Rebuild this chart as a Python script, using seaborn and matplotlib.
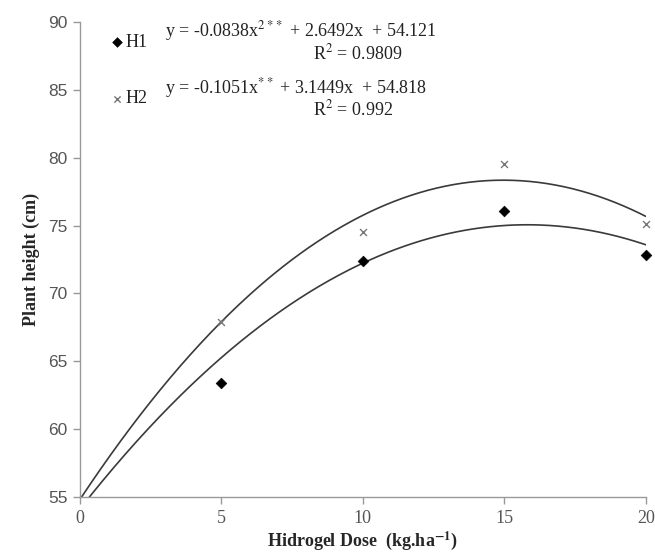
import numpy as np
import pandas as pd
import matplotlib
matplotlib.use("Agg")
import matplotlib.pyplot as plt
import seaborn as sns

# ---- data ----
doses = [5, 10, 15, 20]
h1_height = [63.4, 72.4, 76.1, 72.8]
h2_height = [67.9, 74.5, 79.5, 75.1]
# fitted quadratic coefficients printed on the chart (a, b, c) for y = a x^2 + b x + c
h1_coef = [-0.0838, 2.6492, 54.121]
h2_coef = [-0.1051, 3.1449, 54.818]
x_ticks = [0, 5, 10, 15, 20]
y_ticks = [55, 60, 65, 70, 75, 80, 85, 90]

sns.set_theme(style="white")
plt.rcParams["font.family"] = ["Liberation Serif", "DejaVu Serif"]
plt.rcParams["mathtext.fontset"] = "stix"

fig = plt.figure(figsize=(6.55, 5.58), dpi=100)
ax = fig.add_axes([0.122, 0.1093, 0.864, 0.8513])

# fitted curves
xs = np.linspace(0, 20, 401)
curve = pd.DataFrame({
    "x": np.concatenate([xs, xs]),
    "y": np.concatenate([np.polyval(h1_coef, xs), np.polyval(h2_coef, xs)]),
    "g": ["H1"] * len(xs) + ["H2"] * len(xs),
})
sns.lineplot(data=curve, x="x", y="y", units="g", estimator=None,
             color="#3a3a3a", linewidth=1.2, ax=ax, legend=False)

pts1 = pd.DataFrame({"x": doses, "y": h1_height})
pts2 = pd.DataFrame({"x": doses, "y": h2_height})
sns.scatterplot(data=pts1, x="x", y="y", marker="D", s=30, color="black",
                edgecolor="black", ax=ax, label="H1", zorder=5, clip_on=False)
sns.scatterplot(data=pts2, x="x", y="y", marker="x", s=25, color="#777777",
                linewidth=1.0, ax=ax, label="H2", zorder=5, clip_on=False)

ax.set_xlim(0, 20)
ax.set_ylim(55, 90)
ax.set_xticks(x_ticks)
ax.set_yticks(y_ticks)
ax.set_xticklabels([str(t) for t in x_ticks], fontsize=13, color="#555555",
                   family="Liberation Serif")
ax.set_yticklabels([str(t) for t in y_ticks], fontsize=12.5, color="#555555",
                   family=["Liberation Sans", "DejaVu Sans"])

for s in ["top", "right"]:
    ax.spines[s].set_visible(False)
for s in ["left", "bottom"]:
    ax.spines[s].set_color("#999999")
    ax.spines[s].set_linewidth(1.0)
ax.tick_params(axis="both", which="both", direction="out", length=5, width=1,
               color="#999999", left=True, bottom=True, pad=4)

ax.set_xlabel("Hidrogel Dose  (kg.ha$^{\\mathbf{-1}}$)", fontsize=13,
              fontweight="bold", labelpad=2)
ax.set_ylabel("Plant height (cm)", fontsize=13, fontweight="bold", labelpad=6)

leg = ax.legend(loc="upper left", bbox_to_anchor=(0.145, 0.969),
                bbox_transform=fig.transFigure, frameon=False,
                handlelength=0.6, handletextpad=0.2, labelspacing=2.2,
                fontsize=13, markerscale=0.9)
for t in leg.get_texts():
    t.set_color("#222222")

# equations
eq_kw = dict(transform=fig.transFigure, fontsize=13, color="#222222")
fig.text(0.252, 0.944, "y = -0.0838x$^{2**}$ + 2.6492x  + 54.121", ha="left", va="center", **eq_kw)
fig.text(0.478, 0.905, "R$^{2}$ = 0.9809", ha="left", va="center", **eq_kw)
fig.text(0.252, 0.843, "y = -0.1051x$^{**}$ + 3.1449x  + 54.818", ha="left", va="center", **eq_kw)
fig.text(0.478, 0.804, "R$^{2}$ = 0.992", ha="left", va="center", **eq_kw)

fig.savefig("out.png", dpi=100, facecolor="white")
